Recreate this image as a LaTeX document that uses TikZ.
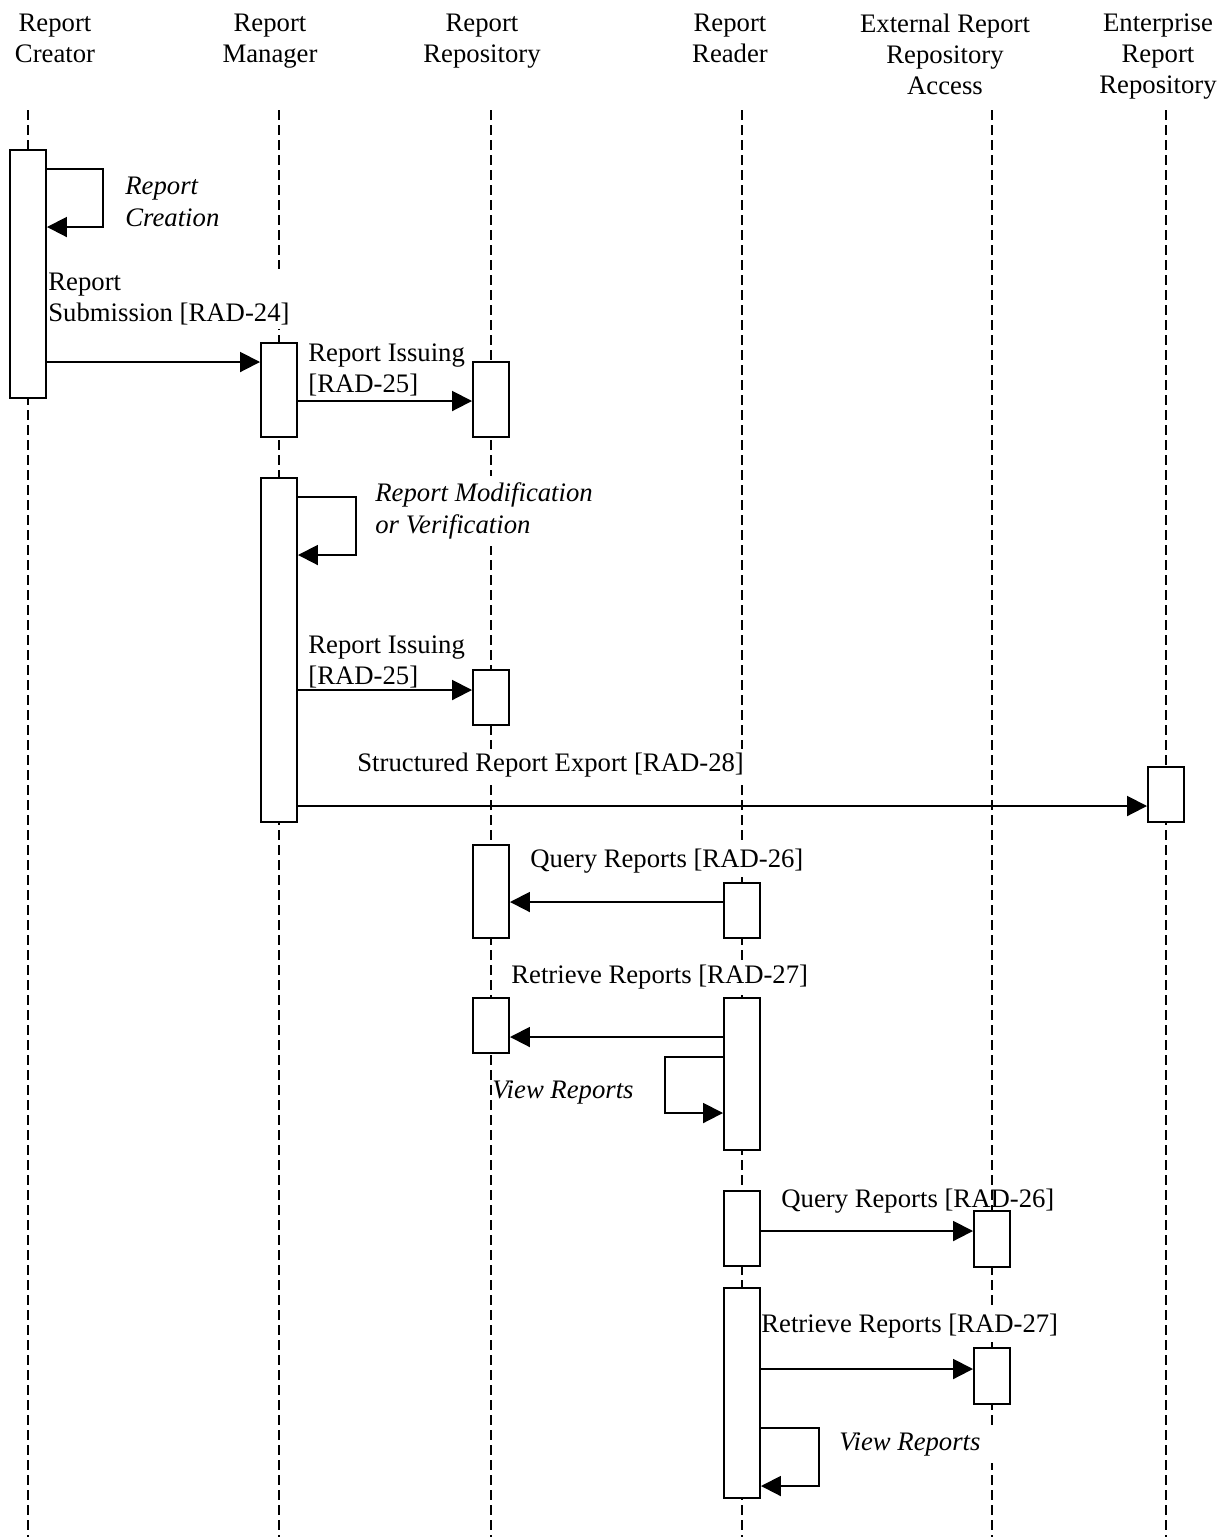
\documentclass[tikz,border=0pt]{standalone}
\usepackage{fontspec}
\setmainfont{Liberation Serif}
\usetikzlibrary{arrows.meta}

\begin{document}
\begin{tikzpicture}[
  x=0.2mm, y=-0.2mm,
  font=\fontsize{15.2}{17.8}\selectfont,
  lifeline/.style={line width=1.1pt, dash pattern=on 2mm off 1mm},
  header/.style={align=center, anchor=north, inner sep=0pt},
  bar/.style={draw, fill=white, line width=1.1pt, minimum width=0.72cm, inner sep=0pt},
  msg/.style={-{Triangle[length=4mm,width=4mm]}, line width=1.1pt},
  msglabel/.style={fill=white, align=left, anchor=west, inner sep=2pt},
  note/.style={msglabel, font=\fontsize{15.2}{17.8}\selectfont\itshape, inner sep=4pt},
]
\useasboundingbox (0,0) rectangle (1231,1537);

% ====== LIFELINES ======
\foreach \n/\x in {creator/28, manager/279, repository/491, reader/742, external/992, enterprise/1166} {
  \coordinate (\n) at (\x,110);
  \draw[lifeline] (\n) -- (\n |- 0,1537);
}

% Actor titles
\node[header] (creatorhead) at (55,13.3) {Report\\Creator};
\node[header] (managerhead) at (270,13.3) {Report\\Manager};
\node[header] (repositoryhead) at (482,13.3) {Report\\Repository};
\node[header] (readerhead) at (730,13.3) {Report\\Reader};
\node[header] (externalhead) at (945,13.3) {External Report\\Repository\\Access};
\node[header] (enterprisehead) at (1158,13.3) {Enterprise\\Report\\Repository};

% ====== MESSAGE LABELS ======
\node[note] (creation) at (118,202) {Report\\Creation};
\node[msglabel] (submission) at (44.5,299) {Report\\Submission [RAD-24]};
\node[msglabel] (issuingA) at (304.5,370) {Report Issuing\\{}[RAD-25]};
\node[note] (modification) at (368,511) {Report Modification\\or Verification};
\node[msglabel] (issuingB) at (304.5,662) {Report Issuing\\{}[RAD-25]};
\node[msglabel] (export) at (353.5,765) {Structured Report Export [RAD-28]};
\node[msglabel] (queryA) at (526.5,861) {Query Reports [RAD-26]};
\node[msglabel] (retrieveA) at (507.5,977) {Retrieve Reports [RAD-27]};
\node[note, fill=none] (viewA) at (485,1092) {View Reports};
\node[msglabel, fill=none] (queryB) at (777.5,1201) {Query Reports [RAD-26]};
\node[msglabel] (retrieveB) at (757.5,1326) {Retrieve Reports [RAD-27]};
\node[note, inner xsep=7pt] (viewB) at (826.7,1444) {View Reports};

% ====== ACTIVATION BARS ======
\node[bar, minimum height=4.96cm] (creatorA) at (creator |- 0,274) {};
\node[bar, minimum height=1.88cm] (managerA) at (manager |- 0,390) {};
\node[bar, minimum height=6.88cm] (managerB) at (manager |- 0,650) {};
\node[bar, minimum height=1.5cm] (repoA) at (repository |- 0,399.5) {};
\node[bar, minimum height=1.1cm] (repoB) at (repository |- 0,697.5) {};
\node[bar, minimum height=1.86cm] (repoC) at (repository |- 0,891.5) {};
\node[bar, minimum height=1.1cm] (repoD) at (repository |- 0,1025.5) {};
\node[bar, minimum height=1.1cm] (readerA) at (reader |- 0,910.5) {};
\node[bar, minimum height=3.04cm] (readerB) at (reader |- 0,1074) {};
\node[bar, minimum height=1.5cm] (readerC) at (reader |- 0,1228.5) {};
\node[bar, minimum height=4.2cm] (readerD) at (reader |- 0,1393) {};
\node[bar, minimum height=1.12cm] (extA) at (external |- 0,1239) {};
\node[bar, minimum height=1.12cm] (extB) at (external |- 0,1376) {};
\node[bar, minimum height=1.1cm] (enterA) at (enterprise |- 0,794.5) {};

% ====== MESSAGES ======
% self calls
\draw[msg] (creatorA.east |- 0,169) -| (103,227) -- (creatorA.east |- 0,227);
\draw[msg] (managerB.east |- 0,497) -| (356,555) -- (managerB.east |- 0,555);
\draw[msg] (readerB.west |- 0,1057) -| (665,1113) -- (readerB.west |- 0,1113);
\draw[msg] (readerD.east |- 0,1428) -| (819,1486) -- (readerD.east |- 0,1486);

% transactions
\draw[msg] (creatorA.east |- 0,362) -- (managerA.west |- 0,362);
\draw[msg] (managerA.east |- 0,401) -- (repoA.west |- 0,401);
\draw[msg] (managerB.east |- 0,690) -- (repoB.west |- 0,690);
\draw[msg] (managerB.east |- 0,806) -- (enterA.west |- 0,806);
\draw[msg] (readerA.west |- 0,902) -- (repoC.east |- 0,902);
\draw[msg] (readerB.west |- 0,1037) -- (repoD.east |- 0,1037);
\draw[msg] (readerC.east |- 0,1231) -- (extA.west |- 0,1231);
\draw[msg] (readerD.east |- 0,1369) -- (extB.west |- 0,1369);

\end{tikzpicture}
\end{document}
